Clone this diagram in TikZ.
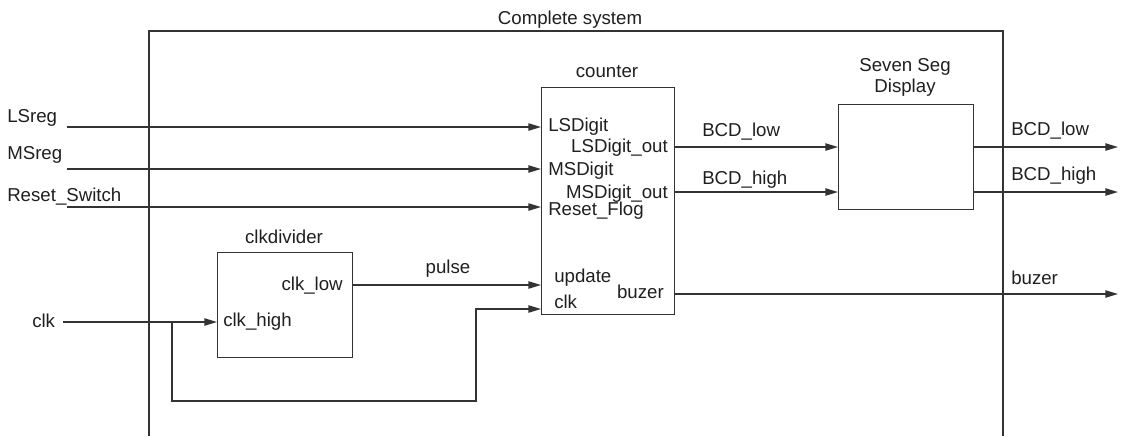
\documentclass[tikz,border=0pt]{standalone}
\usepackage{fontspec}
\setmainfont{Liberation Sans}
\usetikzlibrary{arrows.meta}
\begin{document}
\begin{tikzpicture}[x=0.75pt,y=-0.75pt,
  font=\fontsize{14pt}{16pt}\selectfont,
  wire/.style={draw=black!80, line width=1pt},
  arr/.style={wire, -{Triangle[length=9.5pt,width=5.5pt]}},
  box/.style={draw=black!80, line width=1pt, rectangle, anchor=north west, inner sep=0pt},
  lbl/.style={inner sep=0pt, text=black!88}]
\useasboundingbox (0,0) rectangle (1122,436);
% system frame
\coordinate (sysbl) at (149,436);
\coordinate (systl) at (149,31);
\coordinate (systr) at (1003,31);
\coordinate (sysbr) at (1003,436);
\draw[wire] (sysbl) -- (systl) -- (systr) -- (sysbr);
\node[lbl, anchor=base] (systitle) at (570,24) {Complete system};
% blocks
\node[box, minimum width=99.75pt, minimum height=170.25pt] (counter) at (541,87) {};
\node[lbl, anchor=base] (countert) at (607,77) {counter};
\node[box, minimum width=101.25pt, minimum height=78.75pt] (seg) at (838,104) {};
\node[lbl, anchor=base, align=center] (segt1) at (905,71) {Seven Seg};
\node[lbl, anchor=base] (segt2) at (905,92) {Display};
\node[box, minimum width=101.25pt, minimum height=78.75pt] (clkdiv) at (217,252) {};
\node[lbl, anchor=base] (clkdivt) at (284,243) {clkdivider};
% port labels counter
\node[lbl, anchor=base west] (pLS) at (548,131) {LSDigit};
\node[lbl, anchor=base east] (pLSo) at (668,152) {LSDigit\_out};
\node[lbl, anchor=base west] (pMS) at (548,175) {MSDigit};
\node[lbl, anchor=base east] (pMSo) at (668,198) {MSDigit\_out};
\node[lbl, anchor=base west] (pRF) at (548,215) {Reset\_Flog};
\node[lbl, anchor=base west] (pUp) at (554,282) {update};
\node[lbl, anchor=base west] (pClk) at (554,308) {clk};
\node[lbl, anchor=base east] (pBz) at (664,298) {buzer};
% clkdivider ports
\node[lbl, anchor=base east] (pCL) at (343,290) {clk\_low};
\node[lbl, anchor=base west] (pCH) at (223,326) {clk\_high};
% inputs
\node[lbl, anchor=base west] (tLS) at (7,122) {LSreg};
\node[lbl, anchor=base west] (tMS) at (7,159) {MSreg};
\node[lbl, anchor=base west] (tRS) at (7,201) {Reset\_Switch};
\node[lbl, anchor=base west] (tclk) at (32,327) {clk};
\coordinate (inLS) at (67,127);
\coordinate (inMS) at (67,169);
\coordinate (inRS) at (67,207);
\coordinate (inclk) at (63,322);
\draw[arr] (inLS) -- (counter.west |- inLS);
\draw[arr] (inMS) -- (counter.west |- inMS);
\draw[arr] (inRS) -- (counter.west |- inRS);
\draw[arr] (inclk) -- (clkdiv.west |- inclk);
% clock branch
\coordinate (br) at (172,322);
\coordinate (br1) at (172,401);
\coordinate (br2) at (476,401);
\coordinate (br3) at (476,309);
\draw[arr] (br) -- (br1) -- (br2) -- (br3) -- (counter.west |- br3);
% pulse
\coordinate (pulseY) at (352,285);
\draw[arr] (clkdiv.east |- pulseY) -- (counter.west |- pulseY);
\node[lbl, anchor=base] (tpulse) at (448,273) {pulse};
% counter outputs
\coordinate (yLo) at (700,147);
\coordinate (yHi) at (700,192);
\draw[arr] (counter.east |- yLo) -- (seg.west |- yLo);
\draw[arr] (counter.east |- yHi) -- (seg.west |- yHi);
\node[lbl, anchor=base west] (tBL1) at (702,136) {BCD\_low};
\node[lbl, anchor=base west] (tBH1) at (702,184) {BCD\_high};
% system outputs
\coordinate (oLo) at (1118,147);
\coordinate (oHi) at (1118,192);
\coordinate (oBz) at (1118,294);
\draw[arr] (seg.east |- oLo) -- (oLo);
\draw[arr] (seg.east |- oHi) -- (oHi);
\draw[arr] (counter.east |- oBz) -- (oBz);
\node[lbl, anchor=base west] (tBL2) at (1011,135) {BCD\_low};
\node[lbl, anchor=base west] (tBH2) at (1011,180) {BCD\_high};
\node[lbl, anchor=base west] (tBz) at (1011,284) {buzer};
\end{tikzpicture}
\end{document}
